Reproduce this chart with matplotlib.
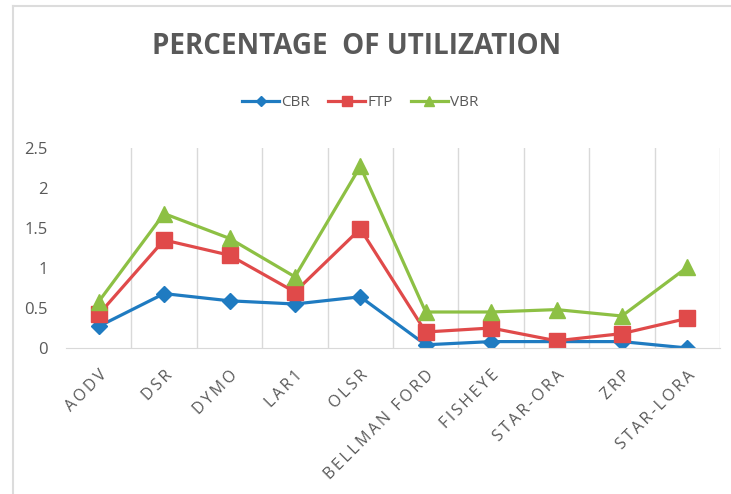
import matplotlib
matplotlib.use("Agg")
from matplotlib import pyplot as plt
from matplotlib.lines import Line2D
import numpy as np

categories = ["AODV", "DSR", "DYMO", "LAR1", "OLSR", "BELLMAN FORD",
              "FISHEYE", "STAR-ORA", "ZRP", "STAR-LORA"]
cbr = [0.27, 0.68, 0.59, 0.55, 0.64, 0.04, 0.08, 0.08, 0.08, 0.00]
ftp = [0.42, 1.35, 1.16, 0.70, 1.49, 0.20, 0.25, 0.09, 0.18, 0.37]
vbr = [0.58, 1.68, 1.37, 0.89, 2.27, 0.45, 0.45, 0.48, 0.40, 1.01]
y_ticks = [0, 0.5, 1, 1.5, 2, 2.5]
y_tick_labels = ["0", "0.5", "1", "1.5", "2", "2.5"]
title = "PERCENTAGE  OF UTILIZATION"

plt.rcParams['font.family'] = ['Open Sans', 'DejaVu Sans']
text_gray = '#595959'
GAP = "\u2009"


def spaced(s):
    # Excel-style letter spacing
    return GAP.join(s)


fig = plt.figure(figsize=(7.31, 4.94), dpi=100)
ax = fig.add_axes([66/731, 1-348/494, (720-66)/731, 200/494])

x = np.arange(len(categories))
ax.plot(x, cbr, color='#1F7BC1', lw=2.3, marker='D', ms=8, label='CBR')
ax.plot(x, ftp, color='#E04A4A', lw=2.3, marker='s', ms=11, label='FTP')
ax.plot(x, vbr, color='#8DC044', lw=2.3, marker='^', ms=11, label='VBR')

ax.set_xlim(-0.5, len(categories) - 0.5)
ax.set_ylim(0, 2.5)
ax.set_yticks(y_ticks)
ax.set_yticklabels(y_tick_labels, color=text_gray, fontsize=12)
ax.tick_params(axis='y', length=0, pad=13)

# vertical gridlines between categories
for b in np.arange(0.5, len(categories), 1.0):
    ax.axvline(b, color='#d9d9d9', lw=1, zorder=0)
for s in ['top', 'right', 'left']:
    ax.spines[s].set_visible(False)
ax.spines['bottom'].set_color('#d9d9d9')

ax.set_xticks(x)
ax.set_xticklabels([spaced(c) for c in categories],
                   rotation=45, ha='right', rotation_mode='anchor',
                   color=text_gray, fontsize=11.5)
ax.tick_params(axis='x', length=0, pad=14)

fig.text(357/731, 1-47/494, title,
         ha='center', va='center', fontsize=20, fontweight='bold', color=text_gray)

ax.legend(loc='center', bbox_to_anchor=(0.45, (494-103-146)/200.0), ncol=3,
          frameon=False, fontsize=11, labelcolor=text_gray, markerscale=0.7,
          handlelength=2.4, columnspacing=1.2, handletextpad=0.15)

# screenshot border on the left and top
fig.add_artist(Line2D([12.5/731, 12.5/731], [0, 1-6/494], color='#dcdcdc', lw=1.5))
fig.add_artist(Line2D([12.5/731, 1], [1-6/494, 1-6/494], color='#dcdcdc', lw=1.5))

fig.savefig("out.png", dpi=100)
